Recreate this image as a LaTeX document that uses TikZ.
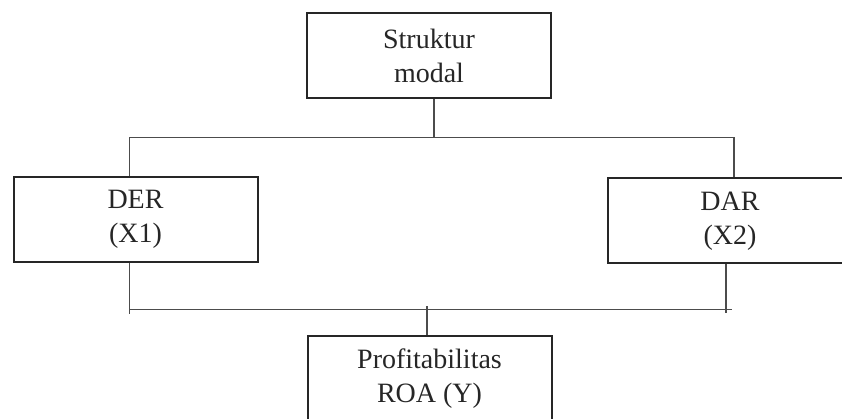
\documentclass[tikz,border=0pt]{standalone}
\usepackage{fontspec}
\setmainfont{Liberation Serif}
\usetikzlibrary{calc}
\tikzset{box/.style={draw=black!85, line width=2pt, minimum width=244pt, minimum height=85pt, inner sep=0pt, align=center, text=black!85, font=\fontsize{28}{34}\selectfont}}
\tikzset{link/.style={draw=black!70, line width=1.1pt}}

\begin{document}
\begin{tikzpicture}[x=1pt,y=-1pt]
\useasboundingbox (0,0) rectangle (842,419);
\node[box] (modal) at (429,55.5) {Struktur\\modal};
\node[box] (der) at (135.5,219.5) {DER\\(X1)};
\node[box] (dar) at (730,221) {DAR\\(X2)};
\node[box] (roa) at (429.5,378.5) {Profitabilitas\\ROA (Y)};
\coordinate (topbus) at (434,137.5);
\coordinate (botbus) at (427,309.5);
\draw[link] (modal.south -| topbus) -- (topbus);
\draw[link] ([xshift=-6pt]der.north) |- (topbus) -| ([xshift=4pt]dar.north);
\draw[link] ([xshift=-6pt]der.south) -- ++(0,51);
\draw[link] ([xshift=-4pt]dar.south) -- ++(0,48);
\draw[link] (botbus -| der.north) ++(-6,0) -- (732,309.5);
\draw[link] (roa.north -| botbus) -- ++(0,-29);
\end{tikzpicture}
\end{document}
